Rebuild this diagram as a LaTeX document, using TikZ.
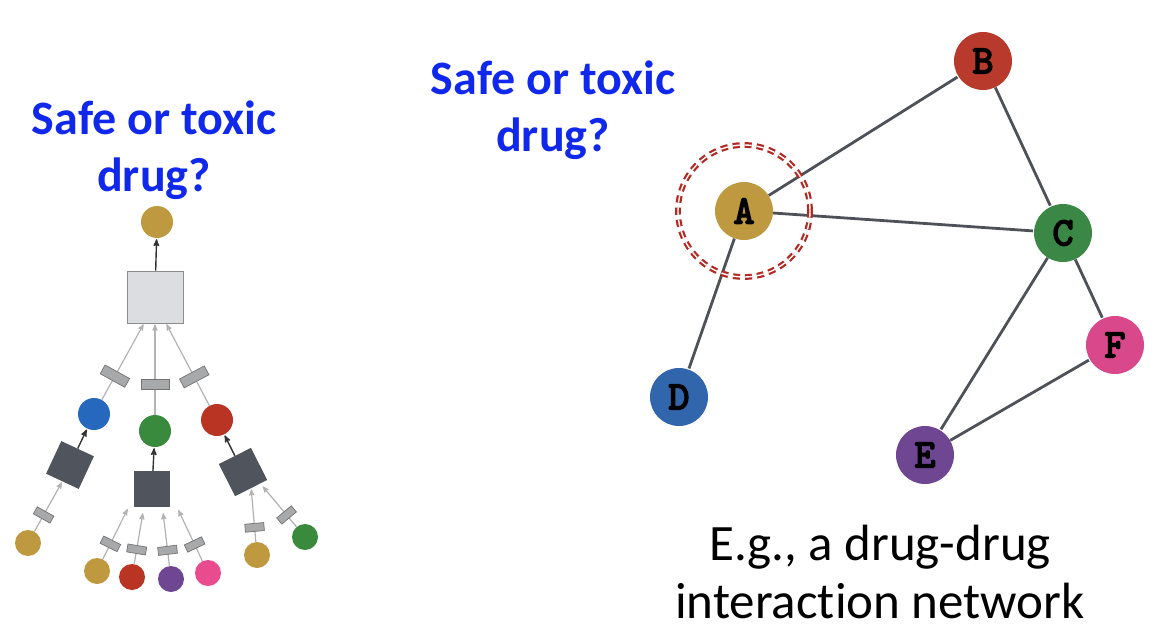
\documentclass[tikz,border=0pt]{standalone}
\usepackage{fontspec}
\setmainfont{Carlito}[Ligatures=NoCommon]
\newfontfamily\druglabel{lmmono10-regular}[Extension=.otf,FakeBold=4]
\usetikzlibrary{arrows}

\definecolor{drugGold}{RGB}{191,153,64}
\definecolor{drugRed}{RGB}{184,58,44}
\definecolor{drugGreen}{RGB}{59,135,70}
\definecolor{drugBlue}{RGB}{50,102,172}
\definecolor{drugPurple}{RGB}{110,70,146}
\definecolor{drugPink}{RGB}{218,72,140}
\definecolor{treeBlue}{RGB}{38,104,190}
\definecolor{treeRed}{RGB}{186,52,36}
\definecolor{treeGreen}{RGB}{58,138,62}
\definecolor{treePink}{RGB}{232,76,142}
\definecolor{darkBox}{RGB}{80,84,92}
\definecolor{lightBox}{RGB}{220,221,224}
\definecolor{barGray}{RGB}{168,169,171}
\definecolor{msgGray}{RGB}{178,178,178}
\definecolor{netEdge}{RGB}{78,82,88}
\definecolor{ringRed}{RGB}{180,40,34}
\definecolor{qBlue}{RGB}{16,40,236}

\begin{document}
\begin{tikzpicture}[x=1pt,y=-1pt,>=stealth',shorten >=1pt]
		\tikzstyle{drug}=[circle,inner sep=0pt,minimum size=58pt,font=\fontsize{40}{40}\selectfont\druglabel]
		\tikzstyle{atom}=[circle,inner sep=0pt,minimum size=32pt]
		\tikzstyle{leaf}=[circle,inner sep=0pt,minimum size=26pt]
		\tikzstyle{box}=[fill=darkBox,inner sep=0pt,minimum size=36pt]
		\tikzstyle{bond}=[draw=black!55,fill=barGray,line width=0.7pt,inner sep=0pt,sloped,minimum width=10pt,minimum height=28pt]
		\tikzstyle{smallbond}=[bond,minimum width=8pt,minimum height=19pt]
		\tikzstyle{msg}=[->,draw=msgGray,line width=1.2pt]
		\tikzstyle{agg}=[->,draw=black!80,line width=1.4pt]
		\tikzstyle{NetEdge}=[draw=netEdge,line width=2.8pt]
		\tikzstyle{question}=[text=qBlue,align=center,font=\fontsize{48}{57}\selectfont\bfseries]

		\useasboundingbox (0,0) rectangle (1170,642);

		% questions and caption
		\node[question] (qLeft) at (154,150) {Safe or toxic\\drug?};
		\node[question] (qRight) at (553,110) {Safe or toxic\\drug?};
		\node[align=center,font=\fontsize{51}{58}\selectfont] (caption) at (880,572) {E.g., a drug-drug\\interaction network};

		% computation tree
		\node[atom,fill=drugGold] (out) at (157,222) {};
		\node[draw=black!45,fill=lightBox,line width=0.8pt,minimum width=56pt,minimum height=52pt] (pool) at (155,297) {};
		\node[atom,fill=treeBlue] (hBlue) at (94,414) {};
		\node[atom,fill=treeGreen] (hGreen) at (155,431) {};
		\node[atom,fill=treeRed] (hRed) at (217,420) {};
		\node[box,rotate=-25] (boxLeft) at (70,465) {};
		\node[box] (boxMid) at (152,489) {};
		\node[box,rotate=26.6] (boxRight) at (243,472) {};
		\node[leaf,fill=drugGold] (leafA) at (28,543) {};
		\node[leaf,fill=drugGold] (leafB) at (97,571) {};
		\node[leaf,fill=treeRed] (leafC) at (132,577) {};
		\node[leaf,fill=drugPurple] (leafD) at (171,579) {};
		\node[leaf,fill=treePink] (leafE) at (208,573) {};
		\node[leaf,fill=drugGold] (leafF) at (257,555) {};
		\node[leaf,fill=treeGreen] (leafG) at (305,537) {};

		\draw[agg] (pool) -- (out);
		\draw[msg] (hBlue) -- ([xshift=-11pt]pool.south) node[bond,pos=.31] {};
		\draw[msg] (hGreen) -- (pool.south) node[bond,pos=.33] {};
		\draw[msg] (hRed) -- ([xshift=11pt]pool.south) node[bond,pos=.35] {};
		\draw[agg] (boxLeft) -- (hBlue);
		\draw[agg] (boxMid) -- (hGreen);
		\draw[agg] (boxRight) -- (hRed);
		\draw[msg] (leafA) -- (boxLeft.south) node[smallbond,pos=.33] {};
		\draw[msg] (leafB) -- ([xshift=-24pt,yshift=-1pt]boxMid.south) node[smallbond,pos=.3] {};
		\draw[msg] (leafC) -- ([xshift=-9pt,yshift=-5pt]boxMid.south) node[smallbond,pos=.28] {};
		\draw[msg] (leafD) -- ([xshift=11pt,yshift=-5pt]boxMid.south) node[smallbond,pos=.29] {};
		\draw[msg] (leafE) -- ([xshift=26pt,yshift=-2pt]boxMid.south) node[smallbond,pos=.32] {};
		\draw[msg] (leafF) -- (boxRight.south) node[smallbond,pos=.27] {};
		\draw[msg] (leafG) -- ([shift={(11pt,2.6pt)}]boxRight.south) node[smallbond,pos=.29] {};

		% interaction network
		\node[drug,fill=drugGold] (A) at (744,211) {A};
		\node[drug,fill=drugRed] (B) at (983,61) {B};
		\node[drug,fill=drugGreen] (C) at (1063,233) {C};
		\node[drug,fill=drugBlue] (D) at (679,397) {D};
		\node[drug,fill=drugPurple] (E) at (925,455) {E};
		\node[drug,fill=drugPink] (F) at (1115,345) {F};

		\path[NetEdge]
		(A) edge (B)
		(A) edge (C)
		(A) edge (D)
		(B) edge (C)
		(C) edge (E)
		(C) edge (F)
		(E) edge (F);

		\draw[ringRed,double=white,double distance=1.4pt,line width=2.2pt,dash pattern=on 7pt off 5pt] (A) circle (66pt);
	\end{tikzpicture}
\end{document}
